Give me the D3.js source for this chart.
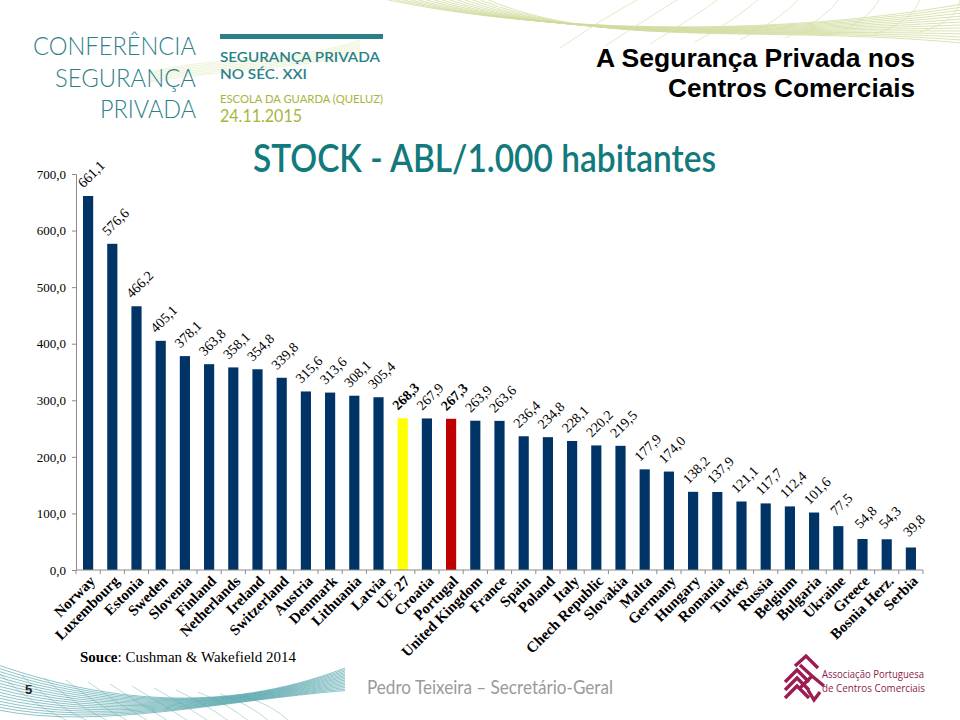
<!DOCTYPE html>
<html>
<head>
<meta charset="utf-8">
<script src="https://cdn.jsdelivr.net/npm/d3@7"></script>
<style>
  html, body { margin: 0; padding: 0; background: #ffffff; }
  svg { display: block; }
</style>
</head>
<body>
<svg id="chart" width="960" height="720"></svg>
<script>
// ---- data ----
const countries = ["Norway","Luxembourg","Estonia","Sweden","Slovenia","Finland","Netherlands","Ireland","Switzerland","Austria","Denmark","Lithuania","Latvia","UE 27","Croatia","Portugal","United Kingdom","France","Spain","Poland","Italy","Chech Republic","Slovakia","Malta","Germany","Hungary","Romania","Turkey","Russia","Belgium","Bulgaria","Ukraine","Greece","Bosnia Herz.","Serbia"];
const values = [661.1,576.6,466.2,405.1,378.1,363.8,358.1,354.8,339.8,315.6,313.6,308.1,305.4,268.3,267.9,267.3,263.9,263.6,236.4,234.8,228.1,220.2,219.5,177.9,174.0,138.2,137.9,121.1,117.7,112.4,101.6,77.5,54.8,54.3,39.8];
const yTicks = [0,100,200,300,400,500,600,700];
const highlightEU = "UE 27";
const highlightPT = "Portugal";

const svg = d3.select("#chart");
const fmt = v => d3.format(".1f")(v).replace(".", ",");

// ---- decorative waves ----
const deco = svg.append("g");
for (let i = 0; i < 14; i++) {
  const p = d3.path();
  p.moveTo(380 + i * 8, -2);
  p.bezierCurveTo(520 + i * 6, 30 + i * 1.5, 760, 40 - i * 1.2, 962, 4 + i * 3);
  deco.append("path").attr("d", p.toString()).attr("fill", "none")
    .attr("stroke", "#cfdc9e").attr("stroke-width", 0.8);
}
for (let i = 0; i < 10; i++) {
  const p = d3.path();
  p.moveTo(560 + i * 45, 48 - i * 2);
  p.quadraticCurveTo(600 + i * 45, 20, 640 + i * 40, -2);
  deco.append("path").attr("d", p.toString()).attr("fill", "none")
    .attr("stroke", "#d6e1ac").attr("stroke-width", 0.7);
}
for (let i = 0; i < 8; i++) {
  const p = d3.path();
  p.moveTo(150, 72 + i * 1.5);
  p.bezierCurveTo(220, 55 + i * 2, 300, 62 + i, 360, 40 + i * 2);
  deco.append("path").attr("d", p.toString()).attr("fill", "none")
    .attr("stroke", "#e1ebc0").attr("stroke-width", 0.6);
}
for (let i = 0; i < 16; i++) {
  const p = d3.path();
  p.moveTo(-2, 665 + i * 3);
  p.bezierCurveTo(100, 700 + i * 2, 220, 716 - i, 345, 668 + i * 1.5);
  deco.append("path").attr("d", p.toString()).attr("fill", "none")
    .attr("stroke", "#3f9aa0").attr("stroke-width", 0.7).attr("opacity", 0.85);
}
for (let i = 0; i < 12; i++) {
  const p = d3.path();
  p.moveTo(i * 22, 674 + i * 2);
  p.quadraticCurveTo(30 + i * 22, 704, 70 + i * 20, 722);
  deco.append("path").attr("d", p.toString()).attr("fill", "none")
    .attr("stroke", "#5aa8ad").attr("stroke-width", 0.6).attr("opacity", 0.7);
}

// ---- header (left logo) ----
const logo = svg.append("g");
[["CONFERÊNCIA", 55, 163], ["SEGURANÇA", 87, 141], ["PRIVADA", 118, 96]].forEach(([t, y, w]) => {
  logo.append("text").attr("x", 196).attr("y", y).attr("text-anchor", "end")
    .attr("font-family", "Lato, 'Open Sans', sans-serif").attr("font-weight", 300)
    .attr("font-size", 25).attr("fill", "#2f7f8c")
    .attr("textLength", w).attr("lengthAdjust", "spacingAndGlyphs").text(t);
});
logo.append("rect").attr("x", 220).attr("y", 34).attr("width", 163).attr("height", 5).attr("fill", "#2a7f8a");
logo.append("text").attr("x", 220).attr("y", 62).attr("font-family", "Lato, sans-serif").attr("font-weight", 600)
  .attr("font-size", 13.5).attr("fill", "#2a7f8a").attr("textLength", 160).attr("lengthAdjust", "spacingAndGlyphs").text("SEGURANÇA PRIVADA");
logo.append("text").attr("x", 220).attr("y", 78.5).attr("font-family", "Lato, sans-serif").attr("font-weight", 600)
  .attr("font-size", 13.5).attr("fill", "#2a7f8a").attr("textLength", 87).attr("lengthAdjust", "spacingAndGlyphs").text("NO SÉC. XXI");
logo.append("text").attr("x", 220).attr("y", 102.5).attr("font-family", "Lato, sans-serif")
  .attr("font-size", 12).attr("fill", "#a9b43c").attr("textLength", 163).attr("lengthAdjust", "spacingAndGlyphs").text("ESCOLA DA GUARDA (QUELUZ)");
logo.append("text").attr("x", 220).attr("y", 122).attr("font-family", "Lato, sans-serif")
  .attr("font-size", 17).attr("fill", "#a9b43c").attr("textLength", 82).attr("lengthAdjust", "spacingAndGlyphs").text("24.11.2015");

// ---- header (right title) ----
svg.append("text").attr("x", 915).attr("y", 67).attr("text-anchor", "end")
  .attr("font-family", "'Liberation Sans', Arial, sans-serif").attr("font-weight", "bold")
  .attr("font-size", 25).attr("fill", "#000")
  .attr("textLength", 319).attr("lengthAdjust", "spacingAndGlyphs").text("A Segurança Privada nos");
svg.append("text").attr("x", 915).attr("y", 97).attr("text-anchor", "end")
  .attr("font-family", "'Liberation Sans', Arial, sans-serif").attr("font-weight", "bold")
  .attr("font-size", 25).attr("fill", "#000")
  .attr("textLength", 247).attr("lengthAdjust", "spacingAndGlyphs").text("Centros Comerciais");

// ---- chart title ----
svg.append("text").attr("x", 253).attr("y", 172)
  .attr("font-family", "Lato, 'Open Sans', sans-serif").attr("font-weight", 600)
  .attr("font-size", 38).attr("fill", "#127a7c")
  .attr("textLength", 463).attr("lengthAdjust", "spacingAndGlyphs")
  .text("STOCK - ABL/1.000 habitantes");

// ---- scales ----
const x = d3.scaleBand().domain(countries).range([76, 923]).paddingInner(0.58).paddingOuter(0.29);
const y = d3.scaleLinear().domain([0, 700]).range([570, 174]);

// ---- y axis ----
const yAxis = svg.append("g").attr("transform", "translate(76,0)")
  .call(d3.axisLeft(y).tickValues(yTicks).tickSize(4).tickPadding(6).tickFormat(fmt));
yAxis.select(".domain").attr("stroke", "#8c8c8c");
yAxis.selectAll(".tick line").attr("stroke", "#8c8c8c");
yAxis.selectAll(".tick text").attr("font-family", "'Liberation Serif', 'Times New Roman', serif")
  .attr("font-size", 13).attr("fill", "#000");

// ---- bars ----
const colorOf = c => c === highlightEU ? "#ffff00" : c === highlightPT ? "#c00000" : "#003366";
svg.append("g").selectAll("rect").data(countries).join("rect")
  .attr("x", c => x(c))
  .attr("y", (c, i) => y(values[i]))
  .attr("width", x.bandwidth())
  .attr("height", (c, i) => y(0) - y(values[i]))
  .attr("fill", c => colorOf(c));

// ---- x axis ----
const step = x.step();
const xg = svg.append("g");
xg.append("line").attr("x1", 76).attr("x2", 923).attr("y1", y(0)).attr("y2", y(0)).attr("stroke", "#8c8c8c");
xg.selectAll("line.tk").data(d3.range(countries.length + 1)).join("line").attr("class", "tk")
  .attr("x1", i => 76 + i * step).attr("x2", i => 76 + i * step)
  .attr("y1", y(0)).attr("y2", y(0) + 4).attr("stroke", "#8c8c8c");

xg.selectAll("text.cat").data(countries).join("text").attr("class", "cat")
  .attr("transform", c => `translate(${x(c) + x.bandwidth() / 2 + 8},${y(0) + 12}) rotate(-45)`)
  .attr("text-anchor", "end")
  .attr("font-family", "'Liberation Serif', 'Times New Roman', serif")
  .attr("font-weight", "bold").attr("font-size", 15).attr("fill", "#000")
  .text(c => c);

// ---- value labels ----
svg.append("g").selectAll("text").data(countries).join("text")
  .attr("transform", (c, i) => `translate(${x(c) + x.bandwidth() / 2 + 3},${y(values[i]) - 22}) rotate(-45)`)
  .attr("text-anchor", "middle").attr("dy", "0.35em")
  .attr("font-family", "'Liberation Serif', 'Times New Roman', serif")
  .attr("font-size", 14).attr("fill", "#000")
  .attr("font-weight", c => (c === highlightEU || c === highlightPT) ? "bold" : "normal")
  .text((c, i) => fmt(values[i]));

// ---- footer ----
const src = svg.append("text").attr("x", 80).attr("y", 662)
  .attr("font-family", "'Liberation Serif', 'Times New Roman', serif").attr("font-size", 15).attr("fill", "#000");
src.append("tspan").attr("font-weight", "bold").text("Souce");
src.append("tspan").text(": Cushman & Wakefield 2014");

svg.append("text").attr("x", 25).attr("y", 694)
  .attr("font-family", "'Liberation Sans', Arial, sans-serif").attr("font-weight", "bold")
  .attr("font-size", 13).attr("fill", "#222").text("5");

svg.append("text").attr("x", 367).attr("y", 694)
  .attr("font-family", "Lato, 'Open Sans', sans-serif").attr("font-size", 19).attr("fill", "#9a9a9a")
  .attr("textLength", 246).attr("lengthAdjust", "spacingAndGlyphs")
  .text("Pedro Teixeira – Secretário-Geral");

// APCC logo
const ap = svg.append("g").attr("fill", "none").attr("stroke", "#9b1d52").attr("stroke-width", 3.4);
[0, 8, 16].forEach(dy => {
  ap.append("path").attr("d", `M785,${682 + dy} L797,${670 + dy} L809,${682 + dy}`);
});
ap.append("path").attr("d", "M800,665 L812,676 L800,688 M812,676 L824,686 M808,690 L814,700 L820,692");
ap.append("path").attr("d", "M795,666 L806,656 L818,668");
svg.append("text").attr("x", 822).attr("y", 678).attr("font-family", "'Open Sans', sans-serif")
  .attr("font-size", 11.5).attr("fill", "#8c1c4c").attr("textLength", 102).attr("lengthAdjust", "spacingAndGlyphs")
  .text("Associação Portuguesa");
svg.append("text").attr("x", 822).attr("y", 692).attr("font-family", "'Open Sans', sans-serif")
  .attr("font-size", 11.5).attr("fill", "#8c1c4c").attr("textLength", 103).attr("lengthAdjust", "spacingAndGlyphs")
  .text("de Centros Comerciais");
</script>
</body>
</html>
